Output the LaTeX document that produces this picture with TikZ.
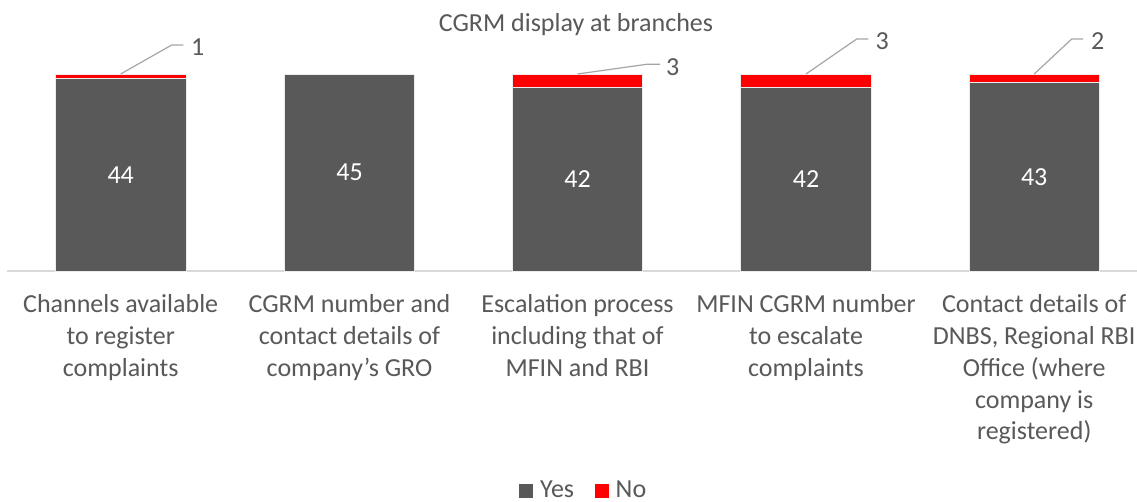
\documentclass[tikz,border=0pt]{standalone}
\usepackage{fontspec}
\setmainfont{Carlito}
\definecolor{yesgray}{HTML}{595959}
\definecolor{nored}{HTML}{FF0000}
\definecolor{txtgray}{HTML}{595959}
\definecolor{axisgray}{HTML}{D9D9D9}
\definecolor{leadgray}{HTML}{A6A6A6}
\newcommand{\catlines}[1]{{\setlength{\tabcolsep}{0pt}\begin{tabular}[t]{@{}c@{}}#1\end{tabular}}}
\tikzset{
  yesbar/.style={fill=yesgray, draw=white!85!gray, line width=0.6pt},
  nobar/.style={fill=nored, draw=white!85!gray, line width=0.6pt},
  valtxt/.style={text=white, font=\fontsize{26}{31.7}\selectfont, inner sep=0pt},
  lbltxt/.style={text=txtgray, font=\fontsize{26}{31.7}\selectfont, inner sep=0pt, anchor=west},
  cattxt/.style={text=txtgray, font=\fontsize{26}{31.7}\selectfont, inner sep=0pt, anchor=base},
  leader/.style={draw=leadgray, line width=1.2pt},
}
\begin{document}
\begin{tikzpicture}[x=1pt,y=-1pt]
\useasboundingbox[fill=white] (0,0) rectangle (1137,502);
% title
\node[text=txtgray, font=\fontsize{26}{31.7}\selectfont, inner sep=0pt, anchor=base] (title) at (576,32) {CGRM display at branches};
% axis
\draw[axisgray, line width=1.2pt] (7,271) -- (1137,271);
% bars: centre, no-count
\def\s{4.3667}
\foreach \i/\cx/\n/\v in {1/120.7/1/44, 2/349.5/0/45, 3/577.5/3/42, 4/806/3/42, 5/1034.2/2/43}{
  \pgfmathsetmacro{\ytop}{74+\n*\s}
  \path[yesbar] (\cx-65.25,\ytop) rectangle (\cx+65.25,271);
  \ifnum\n>0
    \path[nobar] (\cx-65.25,74) rectangle (\cx+65.25,\ytop);
  \fi
  \node[valtxt] (val\i) at (\cx,{(\ytop+271)/2}) {\v};
  \coordinate (top\i) at (\cx,74);
}
% leaders and no-labels
\coordinate (bend1) at (171.7,45);   \coordinate (end1) at (183.3,45);
\coordinate (bend3) at (646.7,64.3); \coordinate (end3) at (660,64.3);
\coordinate (bend4) at (856.7,39);   \coordinate (end4) at (868.3,39);
\coordinate (bend5) at (1071.7,39);  \coordinate (end5) at (1083,39);
\draw[leader] (top1) -- (bend1) -- (end1);
\draw[leader] (top3) -- (bend3) -- (end3);
\draw[leader] (top4) -- (bend4) -- (end4);
\draw[leader] (top5) -- (bend5) -- (end5);
\node[lbltxt] (no1) at (191,47.5) {1};
\node[lbltxt] (no3) at (666,66.8) {3};
\node[lbltxt] (no4) at (875.5,41.5) {3};
\node[lbltxt] (no5) at (1091,41.5) {2};
% category labels
\node[cattxt] (cat1) at (120.7,313) {\catlines{Channels available\\to register\\complaints}};
\node[cattxt] (cat2) at (349.5,313) {\catlines{CGRM number and\\contact details of\\company\char39 s GRO}};
\node[cattxt] (cat3) at (577.5,313) {\catlines{Escalation process\\including that of\\MFIN and RBI}};
\node[cattxt] (cat4) at (806,313) {\catlines{MFIN CGRM number\\to escalate\\complaints}};
\node[cattxt] (cat5) at (1034.2,313) {\catlines{Contact details of\\DNBS, Regional RBI\\Office (where\\company is\\registered)}};
% legend
\fill[yesgray] (519,484) rectangle (533,498);
\node[lbltxt, anchor=base west] (legyes) at (540,497.5) {Yes};
\fill[nored] (594.5,484) rectangle (608.5,498);
\node[lbltxt, anchor=base west] (legno) at (615.5,497.5) {No};
\end{tikzpicture}
\end{document}
